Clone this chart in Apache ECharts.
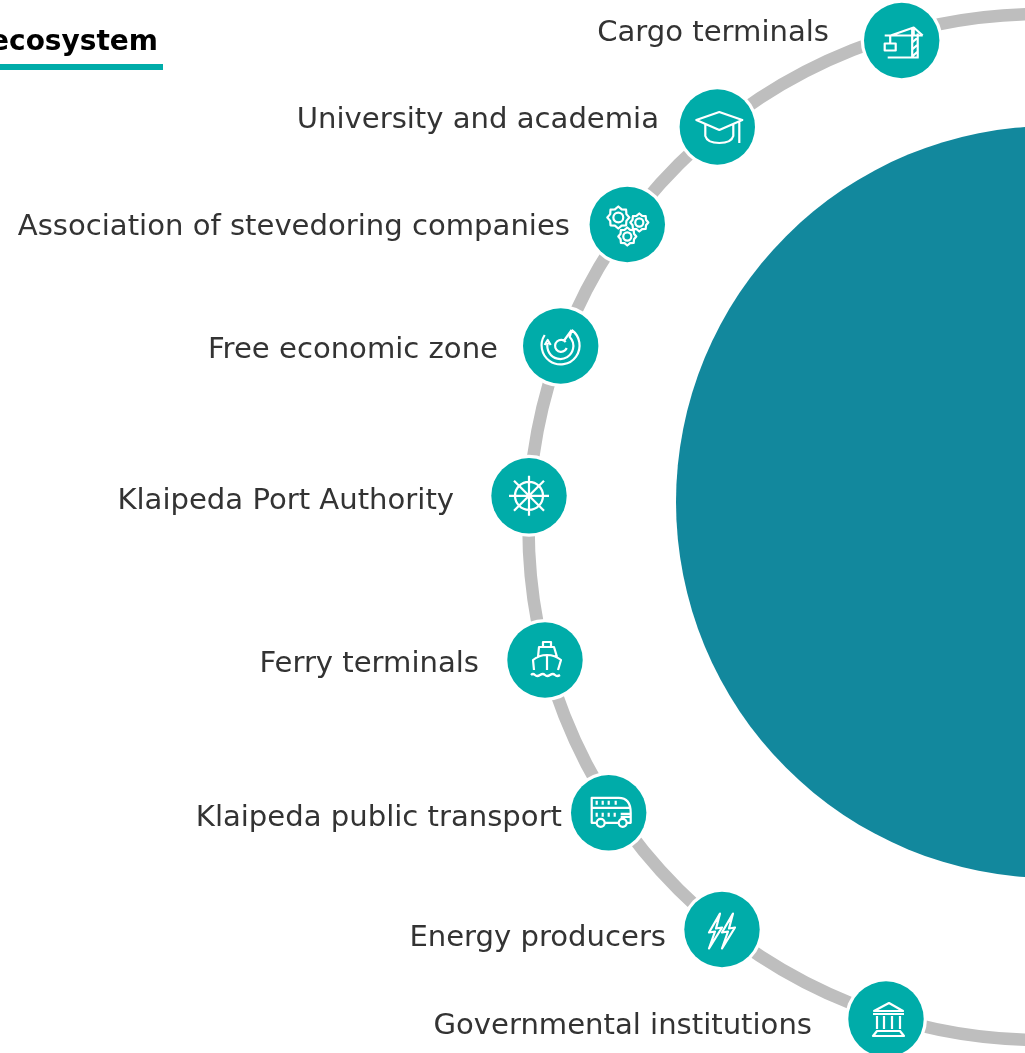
<!DOCTYPE html>
<html>
<head>
<meta charset="utf-8">
<title>Port ecosystem</title>
<style>
    html, body { margin: 0; padding: 0; background: #fff; }
    #chart { width: 1025px; height: 1053px; }
</style>
<script src="https://cdn.jsdelivr.net/npm/echarts@6/dist/echarts.min.js"></script>
</head>
<body>
<div id="chart"></div>
<script>
const titleText = 'ecosystem';
const nodeNames = ['Cargo terminals', 'University and academia', 'Association of stevedoring companies', 'Free economic zone',
    'Klaipeda Port Authority', 'Ferry terminals', 'Klaipeda public transport', 'Energy producers', 'Governmental institutions'];
const nodeIcons = ['crane', 'cap', 'gears', 'radar', 'wheel', 'ferry', 'bus', 'bolts', 'bank'];
// values are in picture units, the hidden axes run 0-1025 and 0-1053
const nodeX = [901.7, 717.3, 627.3, 560.7, 529, 545, 608.7, 722, 886];
const nodeY = [40.5, 127, 224.5, 346, 495.8, 660, 812.8, 929.5, 1019];
const labelEndX = [829, 659, 570, 498, 454, 479, 562, 666, 812];
const labelY = [33, 120, 227, 350, 501, 664, 818, 938, 1026];
const ringCircle = [1041.5, 527, 513];
const hubCircle = [1052, 502, 376];

const TEAL = '#00aca9';
const HUB = '#12889d';
const RING = '#bebebe';
const TEXT = '#333333';
const FONT = '"DejaVu Sans", Verdana, sans-serif';

function gear(cx, cy, r) {
    let d = '';
    const teeth = 8;
    for (let i = 0; i < teeth * 2; i++) {
        const a = i * Math.PI / teeth;
        const rr = i % 2 ? r * 0.8 : r;
        d += (i ? 'L' : 'M') + (cx + rr * Math.cos(a)).toFixed(1) + ' ' + (cy + rr * Math.sin(a)).toFixed(1);
    }
    const h = r * 0.45;
    return d + 'Z M' + (cx - h) + ' ' + cy + ' A' + h + ' ' + h + ' 0 1 0 ' + (cx + h) + ' ' + cy + ' A' + h + ' ' + h + ' 0 1 0 ' + (cx - h) + ' ' + cy + 'Z';
}

// icon outlines, drawn around the node centre
const iconPaths = {
    crane: 'M-14 17L17 17 M10.5 -11L10.5 17 M16 -7L16 17 M10.5 2L16 -3 M10.5 9L16 4 M10.5 16L16 11 M-17 -5L21 -5 M-11 -5L12 -13L21 -5 M12 -13L12 -5 M-11.5 -5L-11.5 3 M-17 3L-6 3L-6 10L-17 10Z',
    cap: 'M-21 -7L2 -15L25 -7L2 3Z M-12 -3L-12 9Q-10 16 2 16Q14 16 16 9L16 -3 M22 -6L22 16',
    gears: gear(-9, -7, 11) + gear(12, -2, 9) + gear(0, 12, 9),
    radar: 'M11 -16A19 19 0 1 1 -16 -11 M11 -16L3 -5 M-13 -3A13 13 0 1 0 9 -9L11 -16 M-16 -1L-13 -6L-10 -1 M5 -4A6 6 0 1 0 6 2',
    wheel: 'M14 0A14 14 0 1 1 -14 0A14 14 0 1 1 14 0 M-20 0L20 0 M0 -20L0 20 M-15 -15L15 15 M-15 15L15 -15',
    ferry: 'M-14 15Q-12 13 -10 15T-5 15T0 15T5 15T10 15T15 15 M-11 10L-12 0Q-6 -5 2 -5Q10 -5 16 0L13 10 M2 -5L2 10 M-7 -3L-6 -13L9 -13L12 -3 M-2 -13L-2 -18L6 -18L6 -13',
    bus: 'M-11 10L-17 10L-17 -15L10 -15Q22 -15 22 0L22 10L18 10 M-4 10L10 10 M-17 -5L22 -5 M12 1L22 1 M12 4L22 4 M-12 -12L-12 -8 M-6 -12L-6 -8 M0 -12L0 -8 M7 -12L7 -8 M-12 0L-12 4 M-6 0L-6 4 M0 0L0 4 M6 0L6 4 M-4 10A4 4 0 1 1 -12 10A4 4 0 1 1 -4 10 M18 10A4 4 0 1 1 10 10A4 4 0 1 1 18 10',
    bolts: 'M-2 -16L-13 3L-7 2L-13 19L0 -2L-6 -1Z M11 -16L0 3L6 2L0 19L13 -2L7 -1Z',
    bank: 'M-12 -8L3 -16L17 -8Z M-13 -5L18 -5 M-9 -3L-9 10 M-2 -3L-2 10 M6 -3L6 10 M14 -3L14 10 M-9 12L14 12L18 17L-13 17Z'
};

function renderRing(params, api) {
    const c = api.coord([api.value(0), api.value(1)]);
    const r = api.size([api.value(2), 0])[0];
    return {
        type: 'circle',
        shape: { cx: c[0], cy: c[1], r: r },
        style: { fill: 'none', stroke: RING, lineWidth: 12.5 }
    };
}

function renderHub(params, api) {
    const c = api.coord([api.value(0), api.value(1)]);
    const r = api.size([api.value(2), 0])[0];
    return {
        type: 'circle',
        shape: { cx: c[0], cy: c[1], r: r },
        style: { fill: HUB }
    };
}

function renderNode(params, api) {
    const c = api.coord([api.value(0), api.value(1)]);
    return {
        type: 'group',
        x: c[0],
        y: c[1],
        children: [
            {
                type: 'circle',
                shape: { cx: 0, cy: 0, r: 41 },
                style: { fill: '#fff' }
            },
            {
                type: 'circle',
                shape: { cx: 0, cy: 0, r: 37.7 },
                style: { fill: TEAL }
            },
            {
                type: 'path',
                shape: { pathData: iconPaths[nodeIcons[params.dataIndex]] },
                style: { fill: 'none', stroke: '#fff', lineWidth: 2.2, lineJoin: 'round' }
            }
        ]
    };
}

function renderLabel(params, api) {
    const c = api.coord([api.value(0), api.value(1)]);
    return {
        type: 'text',
        style: {
            text: nodeNames[params.dataIndex],
            x: c[0],
            y: c[1],
            align: 'right',
            verticalAlign: 'middle',
            fill: TEXT,
            font: '29.1px ' + FONT
        }
    };
}

const chart = echarts.init(document.getElementById('chart'), null, { renderer: 'canvas' });
chart.setOption({
    animation: false,
    grid: { left: 0, right: 0, top: 0, bottom: 0 },
    xAxis: { type: 'value', min: 0, max: 1025, show: false },
    yAxis: { type: 'value', min: 0, max: 1053, inverse: true, show: false },
    tooltip: { show: false },
    graphic: [
        {
            type: 'rect',
            shape: { x: 0, y: 64, width: 163, height: 6 },
            style: { fill: TEAL }
        },
        {
            type: 'text',
            style: {
                text: titleText,
                x: 158,
                y: 43,
                align: 'right',
                verticalAlign: 'middle',
                fill: '#000',
                font: 'bold 28px ' + FONT
            }
        }
    ],
    series: [
        { type: 'custom', name: 'ring', coordinateSystem: 'cartesian2d', clip: false, silent: true, z: 1, renderItem: renderRing, data: [ringCircle] },
        { type: 'custom', name: 'hub', coordinateSystem: 'cartesian2d', clip: false, silent: true, z: 2, renderItem: renderHub, data: [hubCircle] },
        { type: 'custom', name: 'nodes', coordinateSystem: 'cartesian2d', clip: false, silent: true, z: 3, renderItem: renderNode, data: nodeX.map((x, i) => [x, nodeY[i]]) },
        { type: 'custom', name: 'labels', coordinateSystem: 'cartesian2d', clip: false, silent: true, z: 4, renderItem: renderLabel, data: labelEndX.map((x, i) => [x, labelY[i]]) }
    ]
});
</script>
</body>
</html>
